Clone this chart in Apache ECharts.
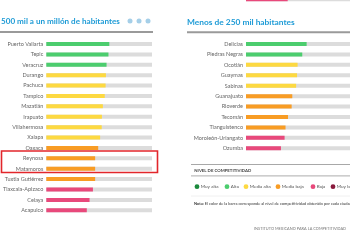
<!DOCTYPE html>
<html>
<head>
<meta charset="utf-8">
<script src="https://cdn.jsdelivr.net/npm/echarts@6/dist/echarts.min.js"></script>
<style>
  html, body { margin: 0; padding: 0; background: #fff; }
  #chart { width: 350px; height: 250px; }
</style>
</head>
<body>
<div id="chart"></div>
<script>
// ciudades de 500 mil a un millón de habitantes
const bigCities = ['Puerto Vallarta', 'Tepic', 'Veracruz', 'Durango', 'Pachuca', 'Tampico', 'Mazatlán',
  'Irapuato', 'Villahermosa', 'Xalapa', 'Oaxaca', 'Reynosa', 'Matamoros', 'Tuxtla Gutiérrez',
  'Tlaxcala-Apizaco', 'Celaya', 'Acapulco']
const bigScores = [59.6, 58.8, 57.0, 56.4, 56.1, 55.3, 53.5, 52.6, 52.4, 50.9, 49.1, 46.2, 46.2, 46.2, 44.1, 40.9, 38.3]
const bigLevels = ['Alta', 'Alta', 'Alta', 'Media alta', 'Media alta', 'Media alta', 'Media alta',
  'Media alta', 'Media alta', 'Media alta', 'Media baja', 'Media baja', 'Media baja', 'Media baja',
  'Baja', 'Baja', 'Baja']

// menos de 250 mil habitantes
const smallCities = ['Delicias', 'Piedras Negras', 'Ocotlán', 'Guaymas', 'Sabinas', 'Guanajuato',
  'Rioverde', 'Tecomán', 'Tianguistenco', 'Moroleón-Uriangato', 'Ozumba']
const smallScores = [58.3, 54.1, 49.6, 49.1, 48.2, 44.5, 43.9, 40.4, 38.0, 37.1, 33.6]
const smallLevels = ['Alta', 'Alta', 'Media alta', 'Media alta', 'Media alta', 'Media baja',
  'Media baja', 'Media baja', 'Media baja', 'Baja', 'Baja']

// fila cortada arriba a la derecha (panel anterior)
const cutScores = [40.1]
const cutLevels = ['Baja']

const levelNames = ['Muy alta', 'Alta', 'Media alta', 'Media baja', 'Baja', 'Muy baja']
const levelColors = {
  'Muy alta': '#1b8a3c',
  'Alta': '#4ccd6e',
  'Media alta': '#fdd941',
  'Media baja': '#f89c24',
  'Baja': '#e8497b',
  'Muy baja': '#8a1a3d',
}

const FONT = 'Lato'
const chart = echarts.init(document.getElementById('chart'))

const barSeries = (idx, scores, levels, w) => ({
  type: 'bar',
  xAxisIndex: idx,
  yAxisIndex: idx,
  barWidth: w,
  showBackground: true,
  backgroundStyle: { color: '#dcdcdc' },
  data: scores.map((v, i) => ({ value: v, itemStyle: { color: levelColors[levels[i]] } })),
  silent: true,
  animation: false,
})

const valueAxis = (idx) => ({ type: 'value', gridIndex: idx, min: 0, max: 100, show: false })
const catAxis = (idx, cats) => ({
  type: 'category',
  gridIndex: idx,
  inverse: true,
  data: cats,
  axisLine: { show: false },
  axisTick: { show: false },
  axisLabel: { color: '#666', fontSize: 5.5, fontFamily: FONT, margin: 3 },
})

// leyenda
const legendX = [197, 227, 246, 278, 313, 333]
const legendItems = []
levelNames.forEach((name, i) => {
  legendItems.push({
    type: 'circle', shape: { cx: legendX[i], cy: 186.7, r: 2.4 },
    style: { fill: levelColors[name] },
  })
  legendItems.push({
    type: 'text', x: legendX[i] + 3.8, y: 186.7,
    style: { text: name, fill: '#555', font: '4.6px ' + FONT, textVerticalAlign: 'middle' },
  })
})

chart.setOption({
  animation: false,
  grid: [
    { left: 38, top: 38.8, width: 114, height: 176.7 },
    { left: 246, top: 38.8, width: 114, height: 114.7 },
    { left: 246, top: 0, width: 114, height: 1.2 },
  ],
  xAxis: [valueAxis(0), valueAxis(1), valueAxis(2)],
  yAxis: [catAxis(0, bigCities), catAxis(1, smallCities),
    { type: 'category', gridIndex: 2, data: [''], show: false }],
  series: [
    barSeries(0, bigScores, bigLevels, 4),
    barSeries(1, smallScores, smallLevels, 4),
    barSeries(2, cutScores, cutLevels, 1.2),
  ],
  graphic: [
    // títulos
    { type: 'text', x: 1, y: 21.5,
      style: { text: '500 mil a un millón de habitantes', fill: '#1e9bd6', font: 'bold 8.1px ' + FONT, textVerticalAlign: 'middle' } },
    { type: 'circle', shape: { cx: 130, cy: 21, r: 2.5 }, style: { fill: '#a5cfe8' } },
    { type: 'circle', shape: { cx: 139, cy: 21, r: 2.5 }, style: { fill: '#a5cfe8' } },
    { type: 'circle', shape: { cx: 148, cy: 21, r: 2.5 }, style: { fill: '#a5cfe8' } },
    { type: 'line', shape: { x1: 0, y1: 32, x2: 153, y2: 32 }, style: { stroke: '#9a9a9a', lineWidth: 2 } },
    { type: 'text', x: 187, y: 22,
      style: { text: 'Menos de 250 mil habitantes', fill: '#1e9bd6', font: 'bold 8.4px ' + FONT, textVerticalAlign: 'middle' } },
    { type: 'line', shape: { x1: 187, y1: 32.3, x2: 350, y2: 32.3 }, style: { stroke: '#9a9a9a', lineWidth: 2 } },

    // recuadro rojo
    { type: 'rect', shape: { x: 1.5, y: 151, width: 156, height: 21.5 },
      style: { fill: 'none', stroke: '#e2262b', lineWidth: 1.6 } },

    // bloque de nivel de competitividad
    { type: 'line', shape: { x1: 191, y1: 164.5, x2: 350, y2: 164.5 }, style: { stroke: '#a8a8a8', lineWidth: 1.2 } },
    { type: 'text', x: 194.3, y: 171,
      style: { text: 'NIVEL DE COMPETITIVIDAD', fill: '#444', font: 'bold 4.3px ' + FONT, textVerticalAlign: 'middle' } },
    { type: 'line', shape: { x1: 191, y1: 175.8, x2: 350, y2: 175.8 }, style: { stroke: '#bdbdbd', lineWidth: 1.2 } },
    ...legendItems,
    { type: 'line', shape: { x1: 191, y1: 196, x2: 350, y2: 196 }, style: { stroke: '#ececec', lineWidth: 0.8 } },
    { type: 'text', x: 194, y: 203.3,
      style: {
        text: '{b|Nota:} El color de la barra corresponde al nivel de competitividad obtenido por cada ciudad',
        fill: '#333', font: '4px ' + FONT, textVerticalAlign: 'middle',
        rich: { b: { fontWeight: 'bold', fontSize: 4, fontFamily: FONT, fill: '#333' } },
      } },
    { type: 'text', x: 254, y: 228.3,
      style: { text: 'INSTITUTO MEXICANO PARA LA COMPETITIVIDAD', fill: '#777', font: '3.9px ' + FONT, textVerticalAlign: 'middle' } },
  ],
})
</script>
</body>
</html>
